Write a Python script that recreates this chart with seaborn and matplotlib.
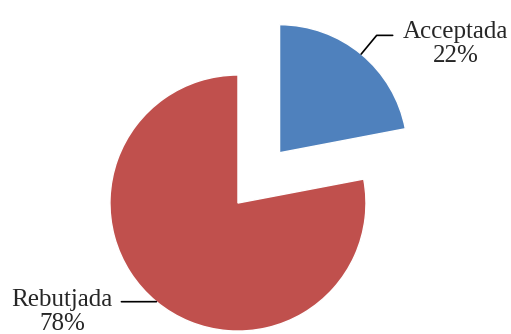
import numpy as np
import matplotlib
matplotlib.use("Agg")
import matplotlib.pyplot as plt
import seaborn as sns

labels = ["Acceptada", "Rebutjada"]
values = [22, 78]
colors = ["#4F81BD", "#C0504D"]

sns.set_style("white")
plt.rcParams['font.family'] = ['Liberation Serif', 'DejaVu Serif']

fig = plt.figure(figsize=(5.11, 3.34), dpi=100)
ax = fig.add_axes([0, 0, 1, 1])

explode = [0.51, 0]
wedges, _ = ax.pie(values, colors=colors, startangle=90, counterclock=False,
                   explode=explode, radius=1)

# labels at wedge midpoints with leader lines
for i, w in enumerate(wedges):
    mid = np.deg2rad((w.theta1 + w.theta2) / 2)
    cx, cy = w.center
    px, py = cx + np.cos(mid), cy + np.sin(mid)
    txt = "%s\n%d%%" % (labels[i], values[i])
    if i == 0:
        ax.annotate(txt, xy=(px, py), xytext=(1.70, 1.245), ha='center', va='center',
                    fontsize=18, linespacing=1.12,
                    arrowprops=dict(arrowstyle='-', color='black', lw=1.2,
                                    connectionstyle="angle,angleA=0,angleB=%.1f,rad=0" % np.rad2deg(mid),
                                    relpos=(0.0, 0.68), shrinkA=5, shrinkB=0))
    else:
        ax.annotate(txt, xy=(px, py), xytext=(-1.375, -0.85), ha='center', va='center',
                    fontsize=18, linespacing=1.12,
                    arrowprops=dict(arrowstyle='-', color='black', lw=1.2,
                                    relpos=(1.0, 0.72), shrinkA=4, shrinkB=0))

ax.set_aspect('auto')
ax.set_xlim(-1.859, 2.133)
ax.set_ylim(-1.023, 1.586)
ax.axis('off')

plt.savefig("out.png", dpi=100)
plt.close()
